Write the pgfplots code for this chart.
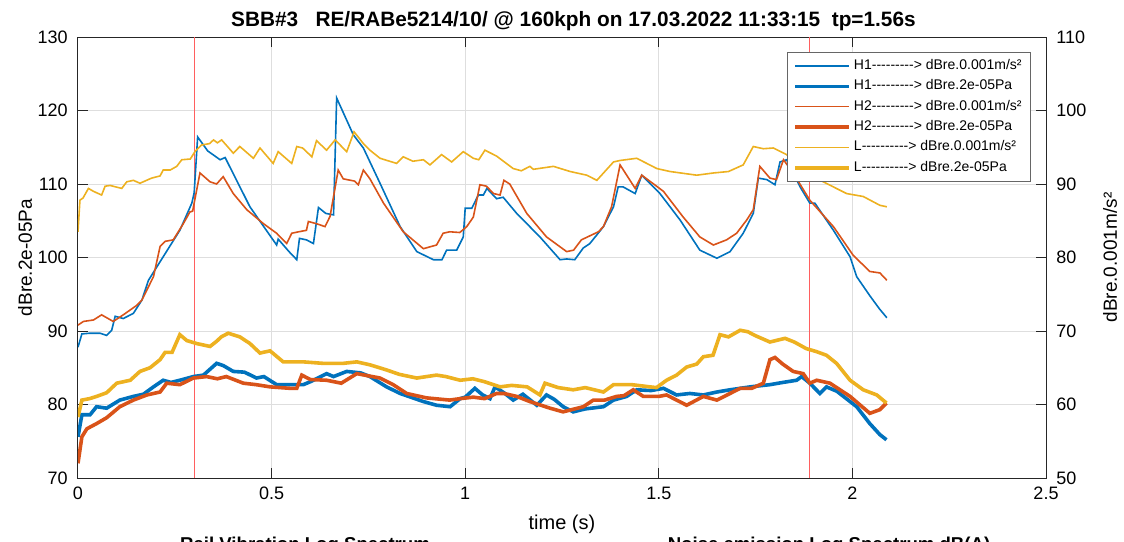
\documentclass[border=0pt]{standalone}
\usepackage{fontspec}
\setmainfont{Liberation Sans}[Ligatures=TeXOff]
\usepackage{pgfplots}
\pgfplotsset{compat=1.18}
\definecolor{mblue}{rgb}{0,0.447,0.741}
\definecolor{morange}{rgb}{0.85,0.325,0.098}
\definecolor{myellow}{rgb}{0.929,0.694,0.125}
\definecolor{mred}{RGB}{255,95,95}
\pgfplotsset{
  common/.style={
    width=484pt, height=220.5pt, scale only axis,
    at={(0,0)}, anchor=south west,
    xmin=0, xmax=2.5,
    tick align=inside, major tick length=5pt,
    /pgf/number format/assume math mode=true,
    tick label style={font=\fontsize{9}{10}\selectfont, inner sep=0pt},
    label style={font=\fontsize{10}{12}\selectfont, inner sep=0pt},
    axis line style={black!85, line width=0.5pt},
    every tick/.style={black!85, line width=0.5pt},
    legend image code/.code={\draw[#1] (0pt,0pt) -- (27pt,0pt);},
  },
  thin/.style={line width=0.8pt},
  thick/.style={line width=1.8pt},
}
\begin{document}
\begin{tikzpicture}
\path[use as bounding box] (-39pt,-31.5pt) rectangle (523pt,239pt);
\begin{axis}[common,
  ymin=70, ymax=130, ytick={70,80,...,130}, ytick pos=left,
  xtick={0,0.5,1,1.5,2,2.5}, xtick pos=both,
  grid=major, major grid style={black!13, line width=0.5pt},
  xticklabel style={anchor=base, yshift=-10.5pt},
  yticklabel style={anchor=east, xshift=-5pt},
  xlabel={time (s)},
  xlabel style={at={(axis description cs:0.5,0)}, anchor=base, yshift=-25.5pt},
  ylabel={dBre.2e-05Pa},
  ylabel style={at={(axis description cs:0,0.5)}, anchor=center, yshift=26.5pt, font=\fontsize{9.5}{11}\selectfont},
  title={SBB\#3\ \ \ RE/RABe5214/10/ @ 160kph on 17.03.2022 11:33:15\ \ tp=1.56s},
  title style={at={(axis description cs:0.5,1)}, anchor=base, yshift=-0.5pt, xshift=5.75pt, font=\bfseries\fontsize{10.4}{12}\selectfont, inner sep=0pt},
]
\addplot[mred, line width=0.6pt] coordinates {(0.3,70) (0.3,130)};
\addplot[mred, line width=0.6pt] coordinates {(1.89,70) (1.89,130)};
% thick H1
\addplot[mblue, thick] coordinates {(0,75.6)(0.01,78.6)(0.031,78.6)(0.048,79.7)(0.074,79.5)(0.108,80.6)(0.143,81.1)(0.169,81.4)(0.195,82.4)(0.22,83.3)(0.24,83.0)(0.263,83.3)(0.298,83.8)(0.324,84.0)(0.358,85.6)(0.375,85.3)(0.401,84.5)(0.43,84.4)(0.461,83.6)(0.48,83.8)(0.513,82.7)(0.582,82.7)(0.6,83.1)(0.642,84.2)(0.66,83.8)(0.694,84.5)(0.73,84.3)(0.754,83.8)(0.797,82.4)(0.832,81.5)(0.892,80.4)(0.926,79.9)(0.961,79.7)(0.987,80.8)(1.0,81.0)(1.025,82.2)(1.045,81.3)(1.064,80.8)(1.077,82.4)(1.1,81.6)(1.124,80.6)(1.149,81.4)(1.185,79.9)(1.21,81.3)(1.23,80.7)(1.253,79.7)(1.279,79.0)(1.31,79.4)(1.357,79.7)(1.383,80.6)(1.417,81.1)(1.443,82.0)(1.48,81.9)(1.512,82.2)(1.546,81.3)(1.58,81.5)(1.615,81.3)(1.65,81.7)(1.684,82.0)(1.736,82.4)(1.787,82.7)(1.82,83.0)(1.856,83.3)(1.869,83.8)(1.89,82.9)(1.916,81.5)(1.933,82.4)(1.96,81.8)(1.994,80.4)(2.011,79.7)(2.045,77.4)(2.071,75.9)(2.088,75.2)};
% thick H2
\addplot[morange, thick] coordinates {(0,72.0)(0.01,75.6)(0.023,76.7)(0.048,77.4)(0.074,78.2)(0.108,79.7)(0.143,80.6)(0.178,81.3)(0.212,81.7)(0.229,82.9)(0.263,82.7)(0.298,83.6)(0.332,83.8)(0.36,83.5)(0.383,83.8)(0.427,82.9)(0.46,82.7)(0.496,82.4)(0.548,82.2)(0.565,82.2)(0.578,84.0)(0.6,83.4)(0.642,83.3)(0.68,82.9)(0.72,84.2)(0.74,84.0)(0.78,83.6)(0.814,82.7)(0.849,81.5)(0.9,80.9)(0.96,80.6)(0.987,80.8)(1.021,81.0)(1.05,80.8)(1.081,81.5)(1.1,81.5)(1.133,81.1)(1.167,80.4)(1.219,79.5)(1.253,79.0)(1.305,79.7)(1.331,80.6)(1.36,80.6)(1.391,81.1)(1.41,81.2)(1.434,82.0)(1.46,81.1)(1.5,81.1)(1.52,81.3)(1.546,80.6)(1.572,79.9)(1.615,81.1)(1.65,80.6)(1.684,81.5)(1.71,82.2)(1.74,82.2)(1.77,82.9)(1.787,86.1)(1.8,86.4)(1.82,85.5)(1.847,84.5)(1.873,84.2)(1.89,82.9)(1.908,83.3)(1.942,82.9)(1.994,81.1)(2.045,78.8)(2.071,79.3)(2.088,80.2)};
% thick L
\addplot[myellow, thick] coordinates {(0,78.3)(0.01,80.6)(0.03,80.8)(0.048,81.1)(0.074,81.6)(0.1,82.9)(0.135,83.3)(0.16,84.5)(0.186,85.0)(0.212,86.1)(0.225,87.1)(0.243,87.1)(0.263,89.5)(0.281,88.7)(0.306,88.3)(0.341,87.9)(0.358,88.6)(0.37,89.2)(0.388,89.7)(0.418,89.2)(0.444,88.3)(0.47,87.0)(0.496,87.3)(0.53,85.8)(0.582,85.8)(0.633,85.6)(0.685,85.6)(0.72,85.8)(0.754,85.4)(0.797,84.7)(0.83,84.1)(0.875,83.6)(0.926,84.0)(0.95,83.8)(0.987,83.3)(1.02,83.5)(1.05,83.1)(1.09,82.4)(1.12,82.6)(1.16,82.4)(1.193,81.3)(1.206,82.9)(1.24,82.3)(1.279,82.0)(1.31,82.3)(1.357,81.7)(1.383,82.7)(1.43,82.7)(1.477,82.4)(1.494,82.3)(1.52,83.3)(1.546,84.0)(1.572,85.1)(1.598,85.5)(1.615,86.5)(1.64,86.7)(1.658,89.5)(1.68,89.2)(1.71,90.1)(1.73,89.9)(1.748,89.4)(1.787,88.5)(1.81,88.8)(1.826,89.0)(1.85,88.5)(1.881,87.6)(1.907,87.2)(1.933,86.7)(1.959,85.6)(1.994,83.3)(2.028,82.0)(2.063,81.3)(2.088,80.2)};
\end{axis}
\begin{axis}[common,
  ymin=50, ymax=110, ytick={50,60,...,110},
  axis x line=none, axis y line*=right,
  yticklabel style={anchor=west, xshift=5pt},
  ylabel={dBre.0.001m/s²},
  ylabel style={at={(axis description cs:1,0.5)}, anchor=center, yshift=-32pt, font=\fontsize{9.5}{11}\selectfont},
  legend style={at={(1,1)}, anchor=north east, xshift=-7.5pt, yshift=-7.5pt,
    font=\fontsize{7}{8}\selectfont, draw=black!60, line width=0.4pt, fill=white,
    inner xsep=3pt, inner ysep=2pt, row sep=0.6pt,
    nodes={inner sep=1.5pt}},
  legend cell align=left,
]
\addlegendimage{mblue, thin}
\addlegendentry{H1---------> dBre.0.001m/s²}
\addlegendimage{mblue, thick}
\addlegendentry{H1---------> dBre.2e-05Pa}
\addlegendimage{morange, thin}
\addlegendentry{H2---------> dBre.0.001m/s²}
\addlegendimage{morange, thick}
\addlegendentry{H2---------> dBre.2e-05Pa}
\addlegendimage{myellow, thin}
\addlegendentry{L----------> dBre.0.001m/s²}
\addlegendimage{myellow, thick}
\addlegendentry{L----------> dBre.2e-05Pa}
% thin H1
\addplot[mblue, thin, forget plot] coordinates {(0,67.8)(0.01,69.6)(0.03,69.7)(0.057,69.7)(0.074,69.4)(0.087,70.1)(0.096,72.0)(0.117,71.7)(0.143,72.4)(0.165,74.2)(0.182,76.9)(0.22,80.1)(0.263,83.7)(0.294,87.4)(0.300,88.8)(0.309,96.4)(0.335,94.5)(0.367,93.3)(0.38,93.6)(0.444,86.9)(0.513,81.7)(0.517,82.5)(0.545,80.8)(0.565,79.7)(0.572,82.6)(0.59,82.4)(0.608,81.9)(0.621,86.8)(0.64,86.0)(0.66,85.8)(0.668,101.7)(0.711,96.7)(0.737,94.9)(0.78,90.1)(0.832,84.2)(0.875,80.8)(0.918,79.7)(0.94,79.7)(0.952,81.0)(0.978,81.0)(0.995,82.8)(1.0,86.7)(1.017,86.7)(1.034,88.5)(1.047,88.5)(1.056,89.4)(1.081,88.0)(1.098,88.2)(1.133,86.0)(1.193,82.8)(1.245,79.7)(1.262,79.8)(1.283,79.7)(1.305,81.3)(1.322,81.9)(1.357,84.2)(1.383,86.9)(1.395,89.6)(1.408,89.6)(1.439,88.7)(1.456,91.2)(1.503,88.7)(1.555,85.1)(1.606,81.0)(1.65,79.9)(1.684,80.8)(1.718,83.3)(1.744,86.0)(1.757,90.8)(1.779,90.6)(1.8,89.9)(1.813,93.0)(1.83,93.3)(1.865,89.6)(1.89,87.4)(1.903,87.4)(1.951,83.7)(1.994,80.1)(2.011,77.4)(2.045,74.8)(2.07,73.0)(2.089,71.8)};
% thin H2
\addplot[morange, thin, forget plot] coordinates {(0,70.8)(0.014,71.3)(0.04,71.5)(0.061,72.2)(0.091,71.3)(0.117,72.2)(0.152,73.5)(0.165,74.2)(0.195,77.4)(0.212,81.5)(0.225,82.2)(0.246,82.4)(0.272,84.6)(0.289,86.2)(0.296,86.3)(0.315,91.5)(0.341,90.3)(0.358,90.0)(0.375,91.0)(0.401,88.7)(0.436,86.5)(0.479,84.6)(0.513,83.3)(0.539,81.9)(0.552,83.3)(0.57,83.5)(0.59,83.7)(0.595,84.9)(0.616,84.6)(0.638,84.2)(0.651,85.6)(0.672,91.9)(0.685,90.7)(0.714,90.4)(0.724,89.9)(0.737,91.9)(0.754,90.7)(0.789,87.4)(0.84,83.5)(0.892,81.2)(0.926,81.7)(0.943,83.3)(0.96,83.5)(0.986,83.4)(1.004,84.2)(1.021,85.5)(1.038,89.9)(1.055,89.7)(1.073,88.7)(1.09,88.5)(1.1,90.5)(1.115,90.0)(1.159,86.0)(1.21,82.8)(1.262,80.8)(1.28,81.0)(1.3,82.4)(1.32,82.9)(1.344,83.5)(1.357,84.2)(1.378,86.9)(1.4,92.6)(1.439,89.4)(1.456,91.2)(1.512,89.0)(1.563,85.5)(1.606,82.8)(1.641,81.7)(1.675,82.4)(1.701,83.3)(1.727,85.1)(1.744,86.5)(1.761,92.4)(1.787,90.8)(1.804,90.6)(1.822,93.3)(1.847,91.5)(1.89,87.8)(1.951,84.2)(2.002,80.3)(2.045,78.1)(2.071,77.9)(2.089,76.9)};
% thin L
\addplot[myellow, thin, forget plot] coordinates {(0,83.5)(0.005,87.8)(0.013,88.1)(0.027,89.4)(0.04,89.0)(0.061,88.5)(0.07,89.7)(0.083,89.8)(0.113,89.4)(0.126,90.3)(0.143,90.5)(0.16,90.1)(0.19,90.8)(0.212,91.1)(0.22,91.9)(0.238,91.9)(0.255,92.4)(0.268,93.3)(0.29,93.4)(0.302,94.4)(0.319,95.3)(0.34,95.5)(0.35,96.0)(0.36,95.6)(0.371,96.0)(0.401,94.2)(0.418,95.1)(0.453,93.5)(0.47,94.9)(0.504,92.8)(0.517,94.4)(0.552,92.8)(0.565,95.1)(0.58,94.9)(0.604,93.7)(0.616,95.9)(0.642,94.6)(0.664,96.0)(0.694,94.4)(0.713,97.1)(0.737,95.5)(0.754,94.6)(0.78,93.5)(0.823,92.8)(0.84,93.7)(0.865,93.1)(0.892,93.3)(0.909,92.6)(0.939,94.0)(0.965,93.0)(0.995,94.4)(1.021,93.5)(1.035,93.3)(1.051,94.6)(1.081,93.8)(1.124,92.1)(1.145,91.8)(1.167,92.4)(1.176,92.0)(1.228,92.4)(1.271,91.7)(1.314,91.2)(1.34,90.5)(1.383,93.0)(1.4,93.2)(1.443,93.5)(1.495,92.1)(1.529,91.7)(1.598,91.2)(1.641,91.5)(1.68,91.7)(1.718,92.6)(1.744,95.1)(1.77,94.8)(1.796,94.9)(1.83,94.0)(1.86,92.5)(1.899,91.0)(1.951,89.6)(1.985,88.7)(2.028,88.3)(2.071,87.1)(2.089,86.9)};
\end{axis}
\node[anchor=north, inner sep=0pt, font=\bfseries\fontsize{9.3}{11}\selectfont] at (113.5pt,-29.3pt) {Rail Vibration Log Spectrum};
\node[anchor=north, inner sep=0pt, font=\bfseries\fontsize{9.3}{11}\selectfont] at (375.5pt,-29.3pt) {Noise emission Log Spectrum dB(A)};
\end{tikzpicture}
\end{document}
